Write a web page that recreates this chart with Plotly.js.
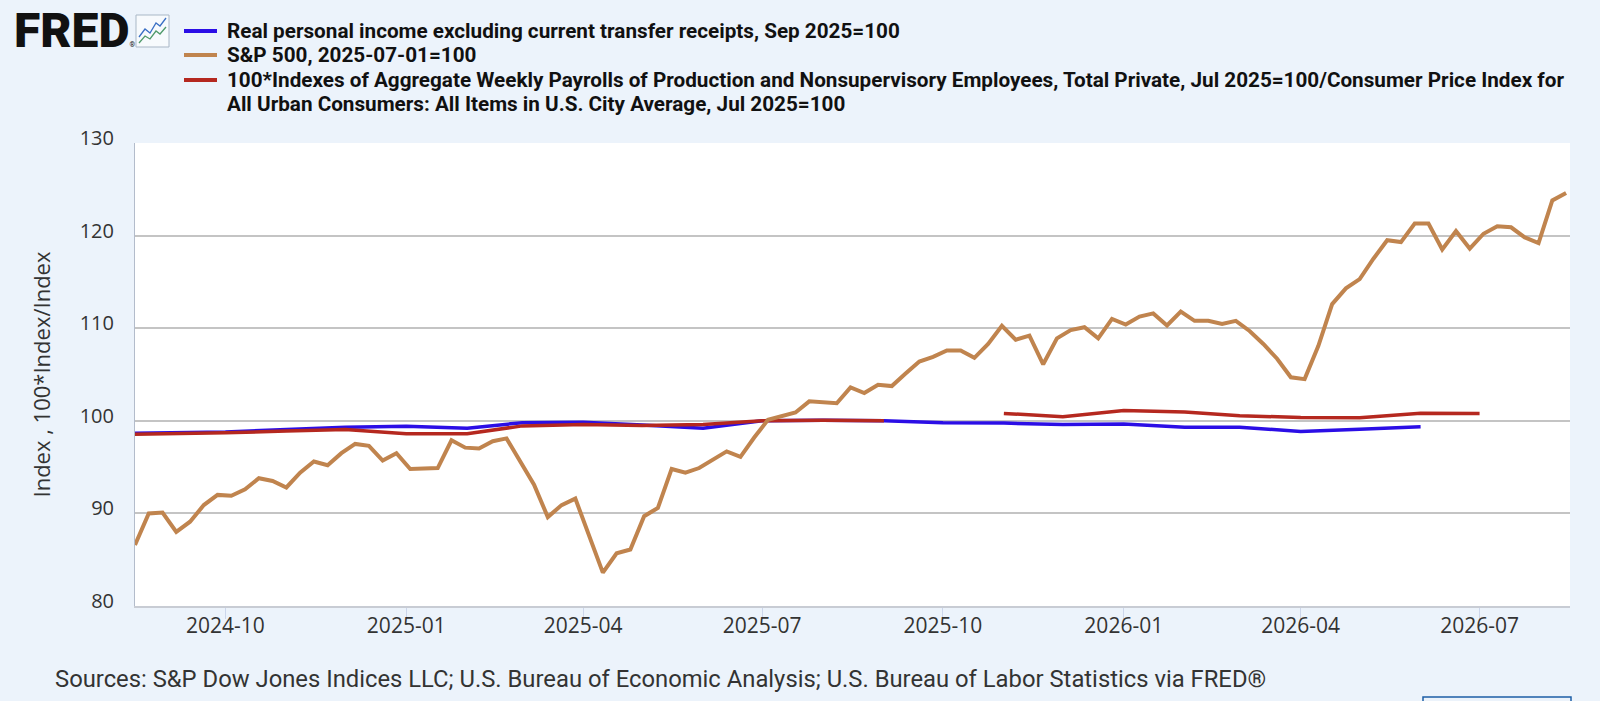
<!DOCTYPE html>
<html>
<head>
<meta charset="utf-8">
<script src="https://cdn.plot.ly/plotly-3.0.1.min.js"></script>
<style>
  html, body { margin: 0; padding: 0; background: #ecf3fb; }
  #chart { width: 1600px; height: 701px; }
</style>
</head>
<body>
<div id="chart"></div>
<script>
// ---------------- DATA ----------------
const incomeDates = ['2024-08-01','2024-09-01','2024-10-01','2024-11-01','2024-12-01','2025-01-01','2025-02-01','2025-03-01','2025-04-01','2025-05-01','2025-06-01','2025-07-01','2025-08-01','2025-09-01','2025-10-01','2025-11-01','2025-12-01','2026-01-01','2026-02-01','2026-03-01','2026-04-01','2026-05-01','2026-06-01'];
const incomeValues = [98.6,98.7,98.8,99.05,99.3,99.4,99.2,99.8,99.85,99.55,99.2,100.0,100.05,100.0,99.8,99.75,99.6,99.65,99.3,99.3,98.85,99.1,99.35];

const payrollDates = ['2024-08-01','2024-09-01','2024-10-01','2024-11-01','2024-12-01','2025-01-01','2025-02-01','2025-03-01','2025-04-01','2025-05-01','2025-06-01','2025-07-01','2025-08-01','2025-09-01','2025-10-01','2025-11-01','2025-12-01','2026-01-01','2026-02-01','2026-03-01','2026-04-01','2026-05-01','2026-06-01','2026-07-01'];
const payrollValues = [98.5,98.6,98.7,98.9,99.05,98.6,98.6,99.45,99.6,99.5,99.6,100.0,100.05,100.0,null,100.8,100.45,101.1,100.95,100.55,100.36,100.32,100.82,100.8];

const spxStart = '2024-08-16';  // weekly observations (Fridays)
const spxValues = [86.6,90.0,90.1,88.0,89.1,90.9,92.0,91.9,92.6,93.8,93.5,92.8,94.4,95.6,95.2,96.5,97.5,97.3,95.7,96.5,
  94.8,94.9,94.9,97.9,97.1,97.0,97.8,98.1,95.6,93.1,89.6,90.9,91.6,87.6,83.6,85.7,86.1,89.7,90.6,94.8,
  94.4,94.9,95.8,96.7,96.1,98.2,100.1,100.5,100.9,102.1,102.0,101.9,103.6,103.0,103.9,103.75,105.1,106.4,106.9,107.6,
  107.6,106.8,108.3,110.25,108.75,109.2,106.1,108.9,109.8,110.1,108.9,111.0,110.4,111.25,111.6,110.3,111.8,110.8,110.8,110.45,
  110.8,109.7,108.3,106.7,104.7,104.5,108.1,112.6,114.3,115.3,117.5,119.5,119.3,121.3,121.3,118.5,120.5,118.6,120.2,121.0,
  120.9,119.8,119.2,123.8,124.6];

const seriesNames = [
  'Real personal income excluding current transfer receipts, Sep 2025=100',
  'S&P 500, 2025-07-01=100',
  '100*Indexes of Aggregate Weekly Payrolls of Production and Nonsupervisory Employees, Total Private, Jul 2025=100/Consumer Price Index for',
  'All Urban Consumers: All Items in U.S. City Average, Jul 2025=100'
];
const yTitle = 'Index , 100*Index/Index';
const sourceText = 'Sources: S&P Dow Jones Indices LLC; U.S. Bureau of Economic Analysis; U.S. Bureau of Labor Statistics via FRED®';
const xRange = ['2024-08-16','2026-08-16'];
const yRange = [80,130];

// weekly dates for S&P
const spxDates = [];
(function(){
  const d0 = new Date(spxStart + 'T00:00:00Z');
  for (let i = 0; i < spxValues.length; i++) {
    const d = new Date(d0.getTime() + i*7*86400000);
    spxDates.push(d.toISOString().slice(0,10));
  }
})();

// ---------------- LAYOUT HELPERS ----------------
const W = 1600, H = 701;
const M = {l:135, r:30, t:143, b:95};
const PW = W - M.l - M.r, PH = H - M.t - M.b;
const px = x => (x - M.l) / PW;
const py = y => (H - M.b - y) / PH;

const C_BLUE = '#2b0ee6', C_SPX = '#c0844e', C_RED = '#b5281f';

const traces = [
  {x: incomeDates, y: incomeValues, type:'scatter', mode:'lines', name: seriesNames[0],
   line:{color:C_BLUE, width:3.5}},
  {x: payrollDates, y: payrollValues, type:'scatter', mode:'lines', name: seriesNames[2],
   line:{color:C_RED, width:3.5}, connectgaps:false},
  {x: spxDates, y: spxValues, type:'scatter', mode:'lines', name: seriesNames[1],
   line:{color:C_SPX, width:4}}
];

const legendY = [31, 55, 80, 104];
const legendColors = [C_BLUE, C_SPX, C_RED];
const annotations = [];
const shapes = [];

// FRED logo (with small registered mark in the same text)
annotations.push({xref:'paper', yref:'paper', x:px(12), y:py(31), xanchor:'left', yanchor:'middle',
  text:"FRED<span style='font-size:7px;font-weight:400'>®</span>", showarrow:false,
  font:{family:'Roboto', size:48, weight:900, color:'#111'}});
shapes.push({type:'rect', xref:'paper', yref:'paper', x0:px(136), x1:px(169), y0:py(47), y1:py(15),
  line:{color:'#a9b7c6', width:1}, fillcolor:'#f7fafd'});
shapes.push({type:'path', xref:'paper', yref:'paper',
  path:'M'+px(139)+','+py(37)+' L'+px(145)+','+py(29)+' L'+px(150)+','+py(33)+' L'+px(156)+','+py(23)+' L'+px(160)+','+py(26)+' L'+px(166)+','+py(18),
  line:{color:'#3a6fc4', width:1.3}});
shapes.push({type:'path', xref:'paper', yref:'paper',
  path:'M'+px(139)+','+py(43)+' L'+px(145)+','+py(36)+' L'+px(150)+','+py(39)+' L'+px(156)+','+py(31)+' L'+px(160)+','+py(34)+' L'+px(166)+','+py(27),
  line:{color:'#4f9a6a', width:1.3}});

// legend
for (let i = 0; i < 4; i++) {
  annotations.push({xref:'paper', yref:'paper', x:px(225), y:py(legendY[i]), xanchor:'left', yanchor:'middle',
    text:'<b>'+seriesNames[i]+'</b>', showarrow:false, font:{family:'Roboto', size:20.7, color:'#111'}});
  if (i < 3) {
    shapes.push({type:'line', xref:'paper', yref:'paper', x0:px(184), x1:px(217), y0:py(legendY[i]), y1:py(legendY[i]),
      line:{color:legendColors[i], width:4}});
  }
}

// source
annotations.push({xref:'paper', yref:'paper', x:px(53), y:py(679), xanchor:'left', yanchor:'middle',
  text:sourceText, showarrow:false, font:{family:'Roboto', size:23.8, color:'#333'}});

// partial button at bottom right
shapes.push({type:'rect', xref:'paper', yref:'paper', x0:px(1423), x1:px(1571), y0:py(730), y1:py(697),
  line:{color:'#1d5fa6', width:1.5}, fillcolor:'rgba(0,0,0,0)'});

const layout = {
  width: W, height: H,
  margin: M,
  paper_bgcolor: '#ecf3fb',
  plot_bgcolor: '#ffffff',
  showlegend: false,
  xaxis: {
    type:'date', range: xRange,
    tick0:'2024-10-01', dtick:'M3', tickformat:'%Y-%m',
    ticks:'outside', ticklen:11, tickwidth:1, tickcolor:'#ccd6eb',
    ticklabelstandoff:-11,
    showgrid:false, zeroline:false,
    showline:true, linecolor:'#c8ccd4', linewidth:1.5,
    tickfont:{family:'Open Sans', size:21, color:'#333'}
  },
  yaxis: {
    range: yRange, dtick:10, tick0:80,
    showgrid:true, gridcolor:'#c4c4c4', gridwidth:2,
    zeroline:false, ticks:'', ticklabelposition:'outside', ticklabelshift:-5, ticklabelstandoff:16,
    showline:true, linecolor:'#b3bccb', linewidth:1,
    tickfont:{family:'Open Sans', size:20, color:'#333'},
    title:{text:yTitle, standoff:22, font:{family:'Open Sans', size:22, color:'#333'}}
  },
  annotations: annotations,
  shapes: shapes
};

Plotly.newPlot('chart', traces, layout, {displayModeBar:false, staticPlot:true});
</script>
</body>
</html>
